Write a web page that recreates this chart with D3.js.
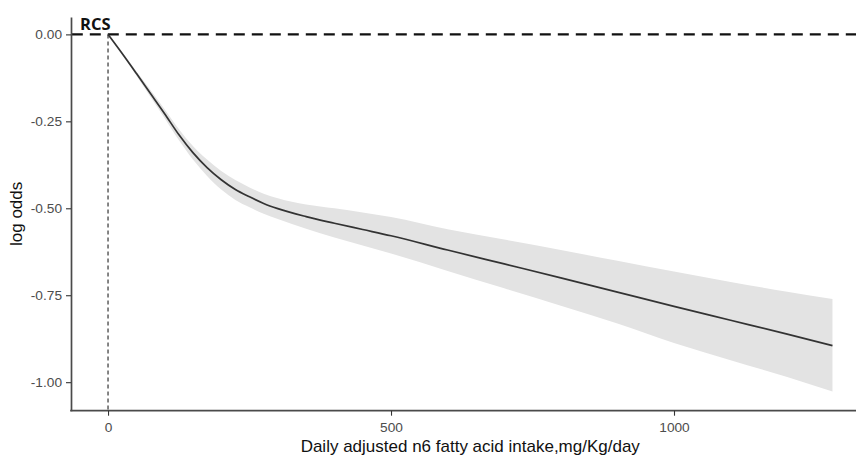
<!DOCTYPE html>
<html>
<head>
<meta charset="utf-8">
<script src="https://cdn.jsdelivr.net/npm/d3@7"></script>
<style>
  html, body { margin: 0; padding: 0; background: #fff; }
  svg { display: block; }
</style>
</head>
<body>
<svg id="chart" width="856" height="456"></svg>
<script>
// ---- data ----
const intake = [0, 25, 50, 75, 100, 125, 150, 175, 200, 225, 250, 275, 300, 350, 400, 450, 500, 600, 700, 800, 900, 1000, 1100, 1200, 1280];
const logOdds = [0, -0.055, -0.112, -0.170, -0.228, -0.288, -0.340, -0.383, -0.418, -0.446, -0.467, -0.486, -0.501, -0.524, -0.543, -0.561, -0.579, -0.620, -0.660, -0.700, -0.741, -0.782, -0.822, -0.862, -0.895];
const upperCI = [0, -0.052, -0.106, -0.160, -0.215, -0.272, -0.321, -0.360, -0.393, -0.419, -0.440, -0.458, -0.471, -0.489, -0.500, -0.512, -0.525, -0.560, -0.590, -0.620, -0.651, -0.682, -0.712, -0.740, -0.761];
const lowerCI = [0, -0.058, -0.118, -0.180, -0.241, -0.304, -0.360, -0.407, -0.446, -0.476, -0.497, -0.516, -0.531, -0.559, -0.584, -0.607, -0.630, -0.680, -0.730, -0.780, -0.831, -0.887, -0.937, -0.985, -1.027];
const xTicks = [0, 500, 1000];
const yTicks = [0, -0.25, -0.5, -0.75, -1.0];
const xTitle = "Daily adjusted n6 fatty acid intake,mg/Kg/day";
const yTitle = "log odds";
const label = "RCS";
const refX = 0;
const refY = 0;

const rows = intake.map((x, i) => ({ x, y: logOdds[i], lo: lowerCI[i], hi: upperCI[i] }));

const svg = d3.select("#chart");

const x = d3.scaleLinear().domain([-64, 1344]).range([71.8, 868.7]);
const y = d3.scaleLinear().domain([-1.082, 0.05]).range([410.7, 17]);

// ribbon
const area = d3.area()
  .x(d => x(d.x)).y0(d => y(d.lo)).y1(d => y(d.hi))
  .curve(d3.curveMonotoneX);
svg.append("path").datum(rows)
  .attr("d", area)
  .attr("fill", "#e3e3e3");

// reference lines
svg.append("line")
  .attr("x1", x(refX)).attr("x2", x(refX))
  .attr("y1", y(refY)).attr("y2", y.range()[0])
  .attr("stroke", "#222").attr("stroke-width", 1.1)
  .attr("stroke-dasharray", "4,3");

svg.append("line")
  .attr("x1", x.range()[0]).attr("x2", 856)
  .attr("y1", y(refY)).attr("y2", y(refY))
  .attr("stroke", "#111").attr("stroke-width", 2.2)
  .attr("stroke-dasharray", "11,7");

// fitted line
const line = d3.line().x(d => x(d.x)).y(d => y(d.y)).curve(d3.curveMonotoneX);
svg.append("path").datum(rows)
  .attr("d", line)
  .attr("fill", "none")
  .attr("stroke", "#333")
  .attr("stroke-width", 1.7);

// axes
const hyphen = f => d => f(d).replace("\u2212", "-");
const xAxis = svg.append("g")
  .attr("transform", `translate(0,${y.range()[0]})`)
  .call(d3.axisBottom(x).tickValues(xTicks).tickSize(5).tickSizeOuter(0).tickFormat(d3.format("d")));
const yAxis = svg.append("g")
  .attr("transform", `translate(${x.range()[0] - 0.8},0)`)
  .call(d3.axisLeft(y).tickValues(yTicks).tickSize(5).tickSizeOuter(0).tickFormat(hyphen(d3.format(".2f"))));

[xAxis, yAxis].forEach(g => {
  g.select(".domain").attr("stroke", "#4a4a4a").attr("stroke-width", 1.7);
  g.selectAll(".tick line").attr("stroke", "#333").attr("stroke-width", 1.1);
  g.selectAll(".tick text")
    .attr("fill", "#4d4d4d")
    .style("font-family", "'Liberation Sans', Arial, sans-serif")
    .style("font-size", "13.7px");
});
xAxis.selectAll(".tick text").attr("dy", "0.95em");
yAxis.selectAll(".tick text").attr("dx", "-1px");
// make x axis line extend to edge
xAxis.select(".domain").attr("d", `M${x.range()[0] - 1.6},0H856`);

// titles
svg.append("text")
  .attr("x", (x.range()[0] + x.range()[1]) / 2).attr("y", 452)
  .attr("text-anchor", "middle")
  .style("font-family", "'Liberation Sans', Arial, sans-serif")
  .style("font-size", "17px")
  .attr("fill", "#111")
  .text(xTitle);

svg.append("text")
  .attr("transform", `translate(22,${(y.range()[0] + y.range()[1]) / 2}) rotate(-90)`)
  .attr("text-anchor", "middle")
  .style("font-family", "'Liberation Sans', Arial, sans-serif")
  .style("font-size", "17px")
  .attr("fill", "#111")
  .text(yTitle);

svg.append("text")
  .attr("x", 80).attr("y", 30)
  .style("font-family", "'Open Sans', sans-serif")
  .style("font-weight", "bold")
  .style("font-size", "16.5px")
  .attr("fill", "#111")
  .text(label);
</script>
</body>
</html>
